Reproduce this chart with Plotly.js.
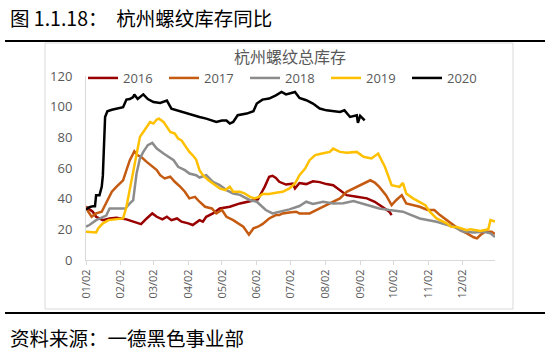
<!DOCTYPE html>
<html>
<head>
<meta charset="utf-8">
<script src="https://cdn.plot.ly/plotly-3.0.1.min.js"></script>
<style>
  html, body { margin: 0; padding: 0; background: #ffffff; }
  #chart { width: 550px; height: 351px; }
</style>
</head>
<body>
<div id="chart"></div>
<script>
// ---- Data (month-day of the year, inventory values) ----
const seriesNames = ['2016', '2017', '2018', '2019', '2020'];

const d2016 = ['01-02','01-08','01-11','01-17','01-23','01-29','02-07','02-13','02-20','02-25','03-01','03-05','03-10','03-14','03-18','03-23','03-27','04-02','04-06','04-12','04-15','04-18','04-24','04-30','05-09','05-18','05-25','05-30','06-03','06-07','06-09','06-13','06-16','06-19','06-22','06-28','07-04','07-06','07-10','07-16','07-22','07-28','08-03','08-09','08-15','08-21','08-30','09-08','09-15','09-22','09-28','09-30'];
const v2016 = [34.7,31.5,28.2,26,27.1,27.6,26.5,25,23.4,27.1,30.4,28.2,26.5,28.2,26,27.1,25,23.9,22.8,26,25,28.2,30.4,33.6,34.7,36.9,38,39,39.5,45,47.7,54.3,54.9,53.5,51,49.2,49.8,46.7,50.2,49.5,51.3,50.8,49.5,48.8,45.6,42.3,41.2,40.2,38,34.7,31.5,29.3];

const d2017 = ['01-02','01-04','01-07','01-11','01-16','01-20','01-25','01-29','02-04','02-07','02-10','02-13','02-14','02-17','02-20','02-25','03-01','03-05','03-08','03-12','03-17','03-21','03-26','03-30','04-03','04-08','04-12','04-17','04-23','04-27','05-02','05-06','05-12','05-18','05-21','05-26','05-30','06-03','06-07','06-13','06-19','06-22','06-25','07-01','07-07','07-10','07-19','07-28','08-06','08-15','08-21','08-27','09-05','09-11','09-15','09-19','09-25','09-30','10-04','10-09','10-13','10-19','10-25','11-01','11-07','11-12','11-18','11-24','11-30','12-06','12-12','12-15','12-18','12-22','12-28','12-31'];
const v2017 = [34.7,31.5,28.2,30.4,31.5,36.9,44.5,47.7,52,58.6,65.1,69.4,70.9,68.3,67.3,64,60.8,58.6,55.3,53.2,54.3,51,47.7,44.5,40.2,41.2,38,34.7,33.6,30.4,32.6,28.2,26,22.8,21.7,16.5,20.6,21.7,23.4,27.1,29.3,29.3,30.4,31,31.5,30.4,30.4,33.6,36.9,40.2,44.5,46.7,49.9,52,50.5,47.7,42.3,35.8,39,42.3,36.9,35.8,34.7,32.6,32.6,29.3,26,22.8,19.5,17.4,14.8,14.1,16.3,18.4,18.4,17];

const d2018 = ['01-02','01-05','01-11','01-17','01-20','01-23','02-06','02-10','02-13','02-16','02-19','02-22','02-26','03-01','03-05','03-11','03-15','03-20','03-24','03-30','04-03','04-09','04-12','04-18','04-24','04-30','05-06','05-12','05-18','05-25','05-27','06-02','06-06','06-10','06-16','06-22','07-01','07-10','07-16','07-22','07-31','08-09','08-18','08-27','09-05','09-13','09-19','09-28','10-10','10-25','11-09','11-24','12-03','12-12','12-21','12-27','12-31'];
const v2018 = [21.7,22.8,26,28.2,29,33.6,33.6,36.9,39,56.4,66.2,70.5,74.9,76.4,72.7,69.4,67.3,65.1,60.8,58.6,56.4,55.3,53.8,55.3,51,48.8,45.6,43.4,42.5,40,39,38,35.5,32.6,30.4,31.5,33,35.2,38,36.5,38,36.9,37,38.5,36.5,35.2,33.6,32.6,31.5,27.1,24.9,21.7,18.4,18,18.4,17.4,15];

const d2019 = ['01-02','01-11','01-13','01-17','01-22','02-04','02-07','02-10','02-13','02-16','02-19','02-22','02-25','02-28','03-02','03-05','03-07','03-11','03-14','03-17','03-21','03-24','03-27','03-30','04-03','04-06','04-09','04-12','04-15','04-20','04-24','04-30','05-05','05-09','05-12','05-18','05-22','05-27','05-31','06-04','06-07','06-13','06-19','06-25','07-01','07-06','07-10','07-15','07-19','07-24','07-30','08-06','08-09','08-15','08-21','08-30','09-05','09-12','09-18','09-24','09-30','10-07','10-10','10-13','10-19','10-25','10-30','11-03','11-09','11-18','11-22','11-27','12-01','12-06','12-09','12-18','12-25','12-27','12-31'];
const v2019 = [18.4,18,20.8,23.9,26,27.1,34.7,45.6,56.4,67.3,80.3,83.5,86.8,90,89,91.6,92.2,90,86.8,83.5,82.5,79.2,78,74.9,70.5,68.3,65.5,58.6,55.3,52,49.9,46.7,45.6,47.8,44.5,44.5,43.5,41.2,40.2,41.2,43,43,43.8,44.5,46.7,49.9,55.3,59.6,65.1,68.4,69.4,70.5,72.7,70.5,69.9,70.5,67.3,66.2,69.4,60.8,48.8,47.7,50.3,43.4,40.2,38,35.8,31.5,27.1,23.9,21.7,21.5,20.6,19.5,20,19,20,26,25];

const d2020 = ['01-02','01-05','01-08','01-10','01-11','01-14','01-16','01-17','01-19','01-21','01-25','01-30','02-04','02-07','02-10','02-13','02-14','02-17','02-22','02-26','03-02','03-08','03-14','03-18','03-23','03-27','04-02','04-07','04-12','04-18','04-22','04-27','05-02','05-06','05-09','05-12','05-16','05-20','05-24','05-30','06-02','06-07','06-13','06-19','06-24','06-28','07-01','07-06','07-10','07-16','07-22','07-28','08-03','08-09','08-15','08-19','08-24','08-30','08-31','09-02','09-06'];
const v2020 = [33,34.5,35,35,42.3,42.3,47.7,55,93.3,97,98,98.7,99.6,104.6,105,106.3,108,105,108,105,103,102.4,104,98.7,97.6,96.5,95.5,94,93.3,92.2,91,90,91,91,89,90,94.4,95,95.5,97,102,104.6,105.3,107.4,109.6,108,108.5,109.6,105.7,104.2,102,98.8,97.6,97,96.5,97.6,93.3,94.4,89.5,94,91];

const tickDays = ['01-02','02-02','03-02','04-02','05-02','06-02','07-02','08-02','09-02','10-02','11-02','12-02'];
const tickText = ['01/02','02/02','03/02','04/02','05/02','06/02','07/02','08/02','09/02','10/02','11/02','12/02'];

const colors = ['#990000', '#C55A11', '#8C8C8C', '#FFC000', '#000000'];
const dates = [d2016, d2017, d2018, d2019, d2020];
const vals = [v2016, v2017, v2018, v2019, v2020];

const year = '2020-';
const traces = seriesNames.map((name, i) => ({
  type: 'scatter',
  mode: 'lines',
  name: name,
  x: dates[i].map(d => year + d),
  y: vals[i],
  line: { color: colors[i], width: 2.5 },
  hoverinfo: 'skip'
}));

// geometry helpers (plot area: x 86..495 px, y 76..260 px)
const W = 550, H = 351;
const L = 86, R = 495, T = 76, B = 260;
const px = x => (x - L) / (R - L);
const py = y => (B - y) / (B - T);

const cjk = '"Noto Sans CJK SC", "Noto Sans", sans-serif';

const layout = {
  width: W,
  height: H,
  margin: { l: L, r: W - R, t: T, b: H - B, pad: 0, autoexpand: false },
  paper_bgcolor: '#ffffff',
  plot_bgcolor: '#ffffff',
  showlegend: true,
  legend: {
    orientation: 'h',
    xref: 'container', yref: 'container',
    x: 83 / W, xanchor: 'left',
    y: 1 - 78 / H, yanchor: 'middle',
    font: { family: '"Open Sans", sans-serif', size: 13, color: '#595959' },
    bgcolor: 'rgba(0,0,0,0)',
    entrywidth: 36,
    entrywidthmode: 'pixels',
    tracegroupgap: 0
  },
  xaxis: {
    type: 'date',
    range: [year + '01-02', year + '12-31'],
    tickvals: tickDays.map(d => year + d),
    ticktext: tickText,
    tickangle: -90,
    ticks: 'outside',
    ticklen: 4,
    tickcolor: '#D9D9D9',
    showline: true,
    linecolor: '#D9D9D9',
    linewidth: 1,
    showgrid: false,
    zeroline: false,
    automargin: false,
    tickfont: { family: '"Open Sans", sans-serif', size: 11, color: '#595959' },
    fixedrange: true
  },
  yaxis: {
    range: [0, 120],
    tickvals: [0, 20, 40, 60, 80, 100, 120],
    showline: true,
    linecolor: '#D9D9D9',
    linewidth: 1,
    showgrid: false,
    zeroline: false,
    automargin: false,
    ticks: '',
    ticklabelstandoff: 10,
    tickfont: { family: '"Open Sans", sans-serif', size: 13, color: '#595959' },
    fixedrange: true
  },
  shapes: [
    { type: 'rect', xref: 'paper', yref: 'paper', x0: px(45), x1: px(513), y0: py(309), y1: py(43),
      line: { color: '#D9D9D9', width: 1 }, fillcolor: 'rgba(0,0,0,0)', layer: 'below' },
    { type: 'line', xref: 'paper', yref: 'paper', x0: px(5), x1: px(545), y0: py(41), y1: py(41),
      line: { color: '#000000', width: 2 } },
    { type: 'line', xref: 'paper', yref: 'paper', x0: px(5), x1: px(545), y0: py(313), y1: py(313),
      line: { color: '#000000', width: 2 } }
  ],
  annotations: [
    { text: '图 1.1.18：  杭州螺纹库存同比', xref: 'paper', yref: 'paper', x: px(8), y: py(17),
      xanchor: 'left', yanchor: 'middle', showarrow: false,
      font: { family: cjk, size: 19.5, color: '#000000' } },
    { text: '杭州螺纹总库存', xref: 'paper', yref: 'paper', x: px(290), y: py(56),
      xanchor: 'center', yanchor: 'middle', showarrow: false,
      font: { family: cjk, size: 16, color: '#595959' } },
    { text: '资料来源：一德黑色事业部', xref: 'paper', yref: 'paper', x: px(8), y: py(337),
      xanchor: 'left', yanchor: 'middle', showarrow: false,
      font: { family: cjk, size: 19.5, color: '#000000' } }
  ]
};

Plotly.newPlot('chart', traces, layout, { displayModeBar: false, staticPlot: true });
</script>
</body>
</html>
